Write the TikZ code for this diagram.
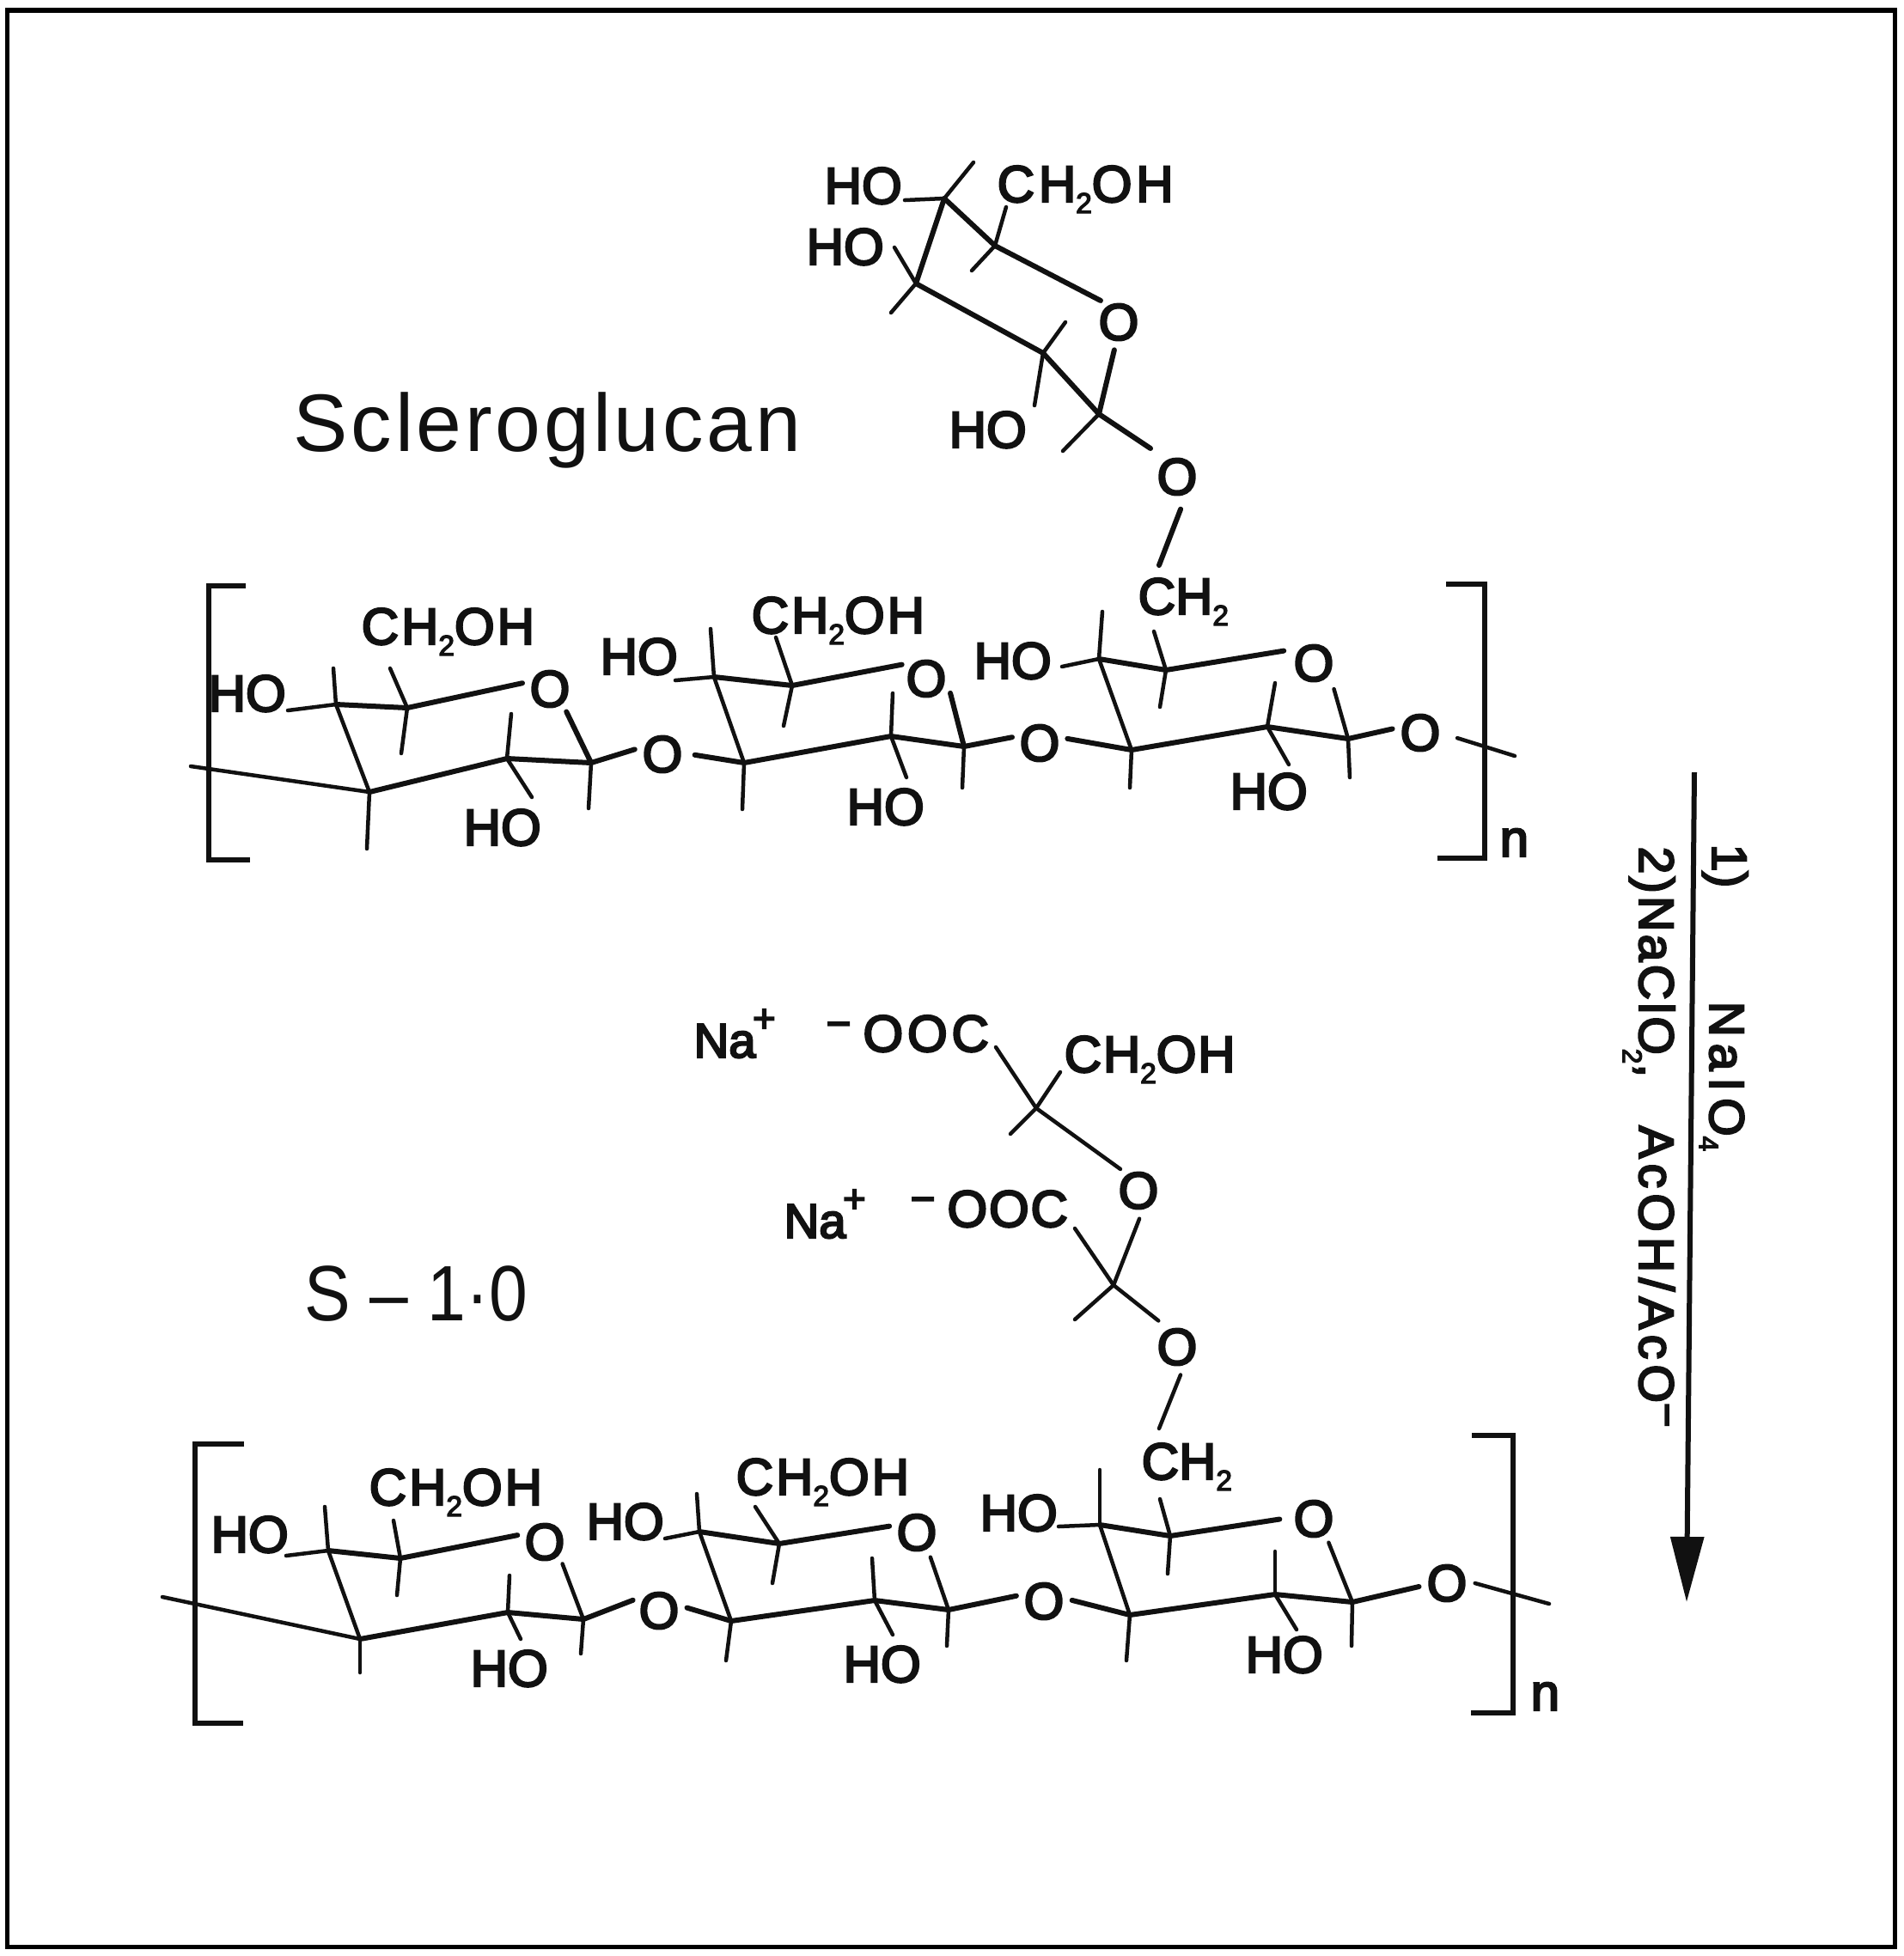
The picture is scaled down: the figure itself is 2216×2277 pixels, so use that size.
\documentclass[tikz,border=0pt]{standalone}
\usepackage{fontspec}
\usetikzlibrary{arrows.meta}
\newfontfamily\chmfam[FakeBold=4]{Liberation Sans}
\newfontfamily\ttlfam{Liberation Sans}
\newcommand\chmf{\chmfam\fontsize{17.07}{20}\selectfont}
\newcommand\naf{\chmfam\fontsize{16}{20}\selectfont}
\newcommand\rxf{\chmfam\fontsize{16.2}{20}\selectfont}
\newcommand\ctwo{\raisebox{-3.7pt}{\fontsize{9.5}{10}\selectfont 2}}
\newcommand\plusup{\hspace{-1pt}\raisebox{8.5pt}{\fontsize{13}{13}\selectfont +}}
\newcommand\minusup{\raisebox{4.5pt}{\fontsize{14}{14}\selectfont −}}
\newcommand\stub[3]{\coordinate (#1-#2-#3) at (#2,#3);\draw[bond] (#1) -- (#1-#2-#3);}
\tikzset{
  bond/.style={draw=inkc,line width=0.045cm,line cap=round},
  front/.style={draw=inkc,line width=0.06cm,line cap=round},
  brk/.style={draw=inkc,line width=0.055cm,line join=miter},
  lbl/.style={inner sep=0pt,anchor=base west,xshift=-0.04cm,text=inkc,font=\chmf},
  lblc/.style={lbl,font=\chmf\addfontfeature{LetterSpace=5}},
  atomO/.style={circle,inner sep=0pt,minimum size=0.64cm,text=inkc,font=\chmf},
  rx/.style={inner sep=0pt,anchor=base west,rotate=-90,text=inkc,font=\rxf},
}
\definecolor{inkc}{HTML}{111111}
\begin{document}
\begin{tikzpicture}[x=0.01cm,y=-0.01cm]
\useasboundingbox (0,0) rectangle (2216,2277);
\fill[white] (0,0) rectangle (2216,2277);
\draw[black,line width=0.052cm] (8.5,12) rectangle (2205.5,2266.5);

% titles
\node[inner sep=0pt,anchor=base west,font=\ttlfam\fontsize{27}{30}\selectfont\addfontfeature{LetterSpace=4},text=inkc] (title1) at (341,525) {Scleroglucan};
\node[inner sep=0pt,anchor=base west,xscale=.88,transform shape,font=\ttlfam\fontsize{26}{30}\selectfont,text=inkc] (title2) at (354,1537) {S – 1·0};

% ---------- upper side sugar
\coordinate (s1) at (1099,231);
\coordinate (s2) at (1158,286);
\coordinate (s3) at (1066,330);
\coordinate (s4) at (1214,411);
\coordinate (s5) at (1279,482);
\node[atomO] (sO1) at (1302,375) {O};
\node[atomO] (sO2) at (1370,555) {O};
\node[lbl] (sh1) at (963,237) {HO};
\node[lbl] (sh2) at (942,308) {HO};
\node[lbl] (sh3) at (1108,521) {HO};
\node[lbl,font=\chmf\addfontfeature{LetterSpace=8}] (sc1) at (1164,235) {CH\ctwo OH};
\node[lbl] (ch3) at (1328,715) {CH\ctwo};
\coordinate (ch3a) at (1349,658);
\draw[front] (s1) -- (s2);
\draw[front] (s1) -- (s3);
\draw[front] (s3) -- (s4);
\draw[front] (s4) -- (s5);
\draw[front] (s2) -- (sO1.130);
\draw[front] (s5) -- (sO1.261);
\draw[front,shorten >=0.13cm] (s5) -- (sO2.128);
\draw[front,shorten <=0.06cm] (sO2.281) -- (ch3a);
\stub{s1}{1053}{233}
\stub{s1}{1133}{189}
\stub{s2}{1171}{241}
\stub{s2}{1131}{315}
\stub{s3}{1041}{288}
\stub{s3}{1037}{364}
\stub{s4}{1240}{375}
\stub{s4}{1204}{472}
\stub{s5}{1237}{525}

% ---------- chain 1
\draw[brk] (286,682) -| (243,1001) -- (291,1001);
\draw[brk] (1683,680) -| (1728,999) -- (1673,999);
\node[lbl,text=inkc] (n1) at (1749,997) {n};
\coordinate (a1) at (430,922);
\coordinate (a2) at (391,820);
\coordinate (a3) at (474,824);
\coordinate (a4) at (590,883);
\coordinate (a5) at (688,888);
\coordinate (a6) at (866,888);
\coordinate (a7) at (831,788);
\coordinate (a8) at (922,798);
\coordinate (a9) at (1037,857);
\coordinate (a10) at (1122,869);
\coordinate (a11) at (1317,873);
\coordinate (a12) at (1279,767);
\coordinate (a13) at (1357,780);
\coordinate (a14) at (1475,846);
\coordinate (a15) at (1569,860);
\coordinate (a16) at (1763,880);
\node[atomO] (aO1) at (640,802) {O};
\node[atomO] (aO2) at (771,878) {O};
\node[atomO] (aO3) at (1078,790) {O};
\node[atomO] (aO4) at (1210,865) {O};
\node[atomO] (aO5) at (1529,772) {O};
\node[atomO] (aO6) at (1653,853) {O};
\node[lbl] (ah1) at (246,828) {HO};
\node[lbl] (ah2) at (543,984) {HO};
\node[lbl] (ah3) at (702,785) {HO};
\node[lbl] (ah4) at (989,960) {HO};
\node[lbl] (ah5) at (1137,790) {HO};
\node[lbl] (ah6) at (1435,942) {HO};
\node[lblc] (ac1) at (424,750) {CH\ctwo OH};
\node[lblc] (ac2) at (878,737) {CH\ctwo OH};
\draw[front] (a2) -- (a3);
\draw[front] (a3) -- (aO1.168);
\draw[front] (a1) -- (a4) -- (a5);
\draw[bond] (a2) -- (a1);
\draw[front] (a5) -- (aO1.306);
\draw[front] (a5) -- (aO2.170);
\draw[front,shorten <=0.05cm] (aO2.0) -- (a6);
\draw[bond] (a7) -- (a6);
\draw[front] (a7) -- (a8);
\draw[front] (a8) -- (aO3.150);
\draw[front] (a6) -- (a9) -- (a10);
\draw[front] (a10) -- (aO3.329);
\draw[front] (a10) -- (aO4.168);
\draw[front] (aO4.9) -- (a11);
\draw[bond] (a12) -- (a11);
\draw[front] (a12) -- (a13);
\draw[front,shorten >=0.06cm] (a13) -- (aO5.152);
\draw[front] (a11) -- (a14) -- (a15);
\draw[bond,shorten >=0.06cm] (a15) -- (aO5.312);
\draw[front] (a15) -- (aO6.172);
\draw[bond,shorten <=0.11cm] (aO6.355) -- (a16);
\stub{a1}{222}{892}
\stub{a1}{427}{988}
\stub{a2}{335}{827}
\stub{a2}{388}{778}
\stub{a3}{454}{778}
\stub{a3}{467}{877}
\stub{a4}{595}{831}
\stub{a4}{619}{928}
\stub{a5}{685}{941}
\stub{a6}{864}{942}
\stub{a7}{786}{792}
\stub{a7}{827}{732}
\stub{a8}{903}{742}
\stub{a8}{912}{845}
\stub{a9}{1039}{807}
\stub{a9}{1055}{905}
\stub{a10}{1120}{917}
\stub{a11}{1315}{917}
\stub{a12}{1236}{776}
\stub{a12}{1283}{712}
\stub{a13}{1343}{735}
\stub{a13}{1350}{823}
\stub{a14}{1484}{795}
\stub{a14}{1500}{890}
\stub{a15}{1571}{905}

% ---------- S-1.0 side chain
\coordinate (c1) at (1206,1290);
\coordinate (c2) at (1296,1496);
\coordinate (c1a) at (1159,1219);
\coordinate (c1b) at (1234,1248);
\coordinate (c2a) at (1251,1430);
\coordinate (ch4a) at (1349,1663);
\node[atomO] (zO1) at (1325,1386) {O};
\node[atomO] (zO2) at (1370,1568) {O};
\node[lbl,font=\naf] (na1) at (811,1231) {Na\plusup};
\node[lbl,font=\naf] (na2) at (916,1441) {Na\plusup};
\node[lbl,font=\chmf\addfontfeature{LetterSpace=8}] (oc1) at (965,1224) {\minusup\hspace{4pt}OOC};
\node[lbl,font=\chmf\addfontfeature{LetterSpace=3}] (oc2) at (1063,1428) {\minusup\hspace{4pt}OOC};
\node[lblc,font=\chmf\addfontfeature{LetterSpace=3}] (zc1) at (1242,1248) {CH\ctwo OH};
\node[lbl] (ch4) at (1332,1722) {CH\ctwo};
\draw[bond] (c1a) -- (c1);
\draw[bond] (c1b) -- (c1);
\draw[bond] (c1) -- (zO1.130);
\draw[bond] (c2) -- (zO1.272);
\draw[bond] (c2a) -- (c2);
\draw[bond,shorten >=0.05cm] (c2) -- (zO2.123);
\draw[bond] (zO2.277) -- (ch4a);
\stub{c1}{1176}{1320}
\stub{c2}{1251}{1536}

% ---------- chain 2
\draw[brk] (284,1681) -| (227,2006) -- (283,2006);
\draw[brk] (1713,1671) -| (1761,1994) -- (1712,1994);
\node[lbl] (n2) at (1785,1991) {n};
\coordinate (b1) at (419,1908);
\coordinate (b2) at (382,1805);
\coordinate (b3) at (466,1814);
\coordinate (b4) at (591,1877);
\coordinate (b5) at (679,1885);
\coordinate (b6) at (851,1887);
\coordinate (b7) at (814,1783);
\coordinate (b8) at (907,1797);
\coordinate (b9) at (1018,1863);
\coordinate (b10) at (1104,1874);
\coordinate (b11) at (1315,1880);
\coordinate (b12) at (1280,1775);
\coordinate (b13) at (1362,1788);
\coordinate (b14) at (1484,1856);
\coordinate (b15) at (1574,1865);
\coordinate (b16) at (1803,1867);
\node[atomO] (bO1) at (634,1795) {O};
\node[atomO] (bO2) at (767,1875) {O};
\node[atomO] (bO3) at (1067,1784) {O};
\node[atomO] (bO4) at (1215,1864) {O};
\node[atomO] (bO5) at (1529,1768) {O};
\node[atomO] (bO6) at (1684,1843) {O};
\node[lbl] (bh1) at (249,1807) {HO};
\node[lbl] (bh2) at (551,1963) {HO};
\node[lbl] (bh3) at (686,1792) {HO};
\node[lbl] (bh4) at (985,1958) {HO};
\node[lbl] (bh5) at (1144,1782) {HO};
\node[lbl] (bh6) at (1453,1947) {HO};
\node[lblc] (bc1) at (433,1752) {CH\ctwo OH};
\node[lblc] (bc2) at (860,1740) {CH\ctwo OH};
\draw[front] (b2) -- (b3);
\draw[front] (b3) -- (bO1.166);
\draw[front] (b1) -- (b4) -- (b5);
\draw[bond] (b2) -- (b1);
\draw[bond] (b5) -- (bO1.309);
\draw[front] (b5) -- (bO2.158);
\draw[front] (bO2.6) -- (b6);
\draw[bond] (b7) -- (b6);
\draw[front] (b7) -- (b8);
\draw[front] (b8) -- (bO3.167);
\draw[front] (b6) -- (b9) -- (b10);
\draw[bond] (b10) -- (bO3.299);
\draw[front] (b10) -- (bO4.169);
\draw[front] (bO4.2) -- (b11);
\draw[bond] (b12) -- (b11);
\draw[front] (b12) -- (b13);
\draw[front,shorten >=0.07cm] (b13) -- (bO5.179);
\draw[front] (b11) -- (b14) -- (b15);
\draw[bond] (b15) -- (bO5.302);
\draw[front] (b15) -- (bO6.187);
\draw[bond] (bO6.0) -- (b16);
\stub{b1}{189}{1859}
\stub{b1}{419}{1947}
\stub{b2}{333}{1811}
\stub{b2}{378}{1754}
\stub{b3}{458}{1770}
\stub{b3}{462}{1857}
\stub{b4}{593}{1834}
\stub{b4}{606}{1908}
\stub{b5}{676}{1925}
\stub{b6}{845}{1933}
\stub{b7}{774}{1791}
\stub{b7}{811}{1739}
\stub{b8}{879}{1754}
\stub{b8}{899}{1843}
\stub{b9}{1015}{1814}
\stub{b9}{1039}{1903}
\stub{b10}{1102}{1916}
\stub{b11}{1311}{1933}
\stub{b12}{1232}{1777}
\stub{b12}{1280}{1711}
\stub{b13}{1350}{1745}
\stub{b13}{1359}{1832}
\stub{b14}{1484}{1806}
\stub{b14}{1509}{1897}
\stub{b15}{1573}{1916}

% ---------- reaction arrow
\coordinate (arrA) at (1972,899);
\coordinate (arrB) at (1963,1865);
\draw[draw=inkc,line width=0.06cm,-{Triangle[length=0.76cm,width=0.38cm,fill=inkc]}] (arrA) -- (arrB);
\node[rx] (r1) at (1993,982) {1)};
\node[rx,font=\rxf\addfontfeature{LetterSpace=14}] (r2) at (1990,1165) {NaIO\raisebox{-3.5pt}{\fontsize{9}{10}\selectfont 4}};
\node[rx] (r3) at (1908,985) {{\addfontfeature{LetterSpace=6}2)NaClO}\hspace{-2pt}\raisebox{-5.5pt}{\fontsize{9}{10}\selectfont 2},\hspace{16pt}{\addfontfeature{LetterSpace=11}AcOH/AcO}\minusup};
\end{tikzpicture}
\end{document}
